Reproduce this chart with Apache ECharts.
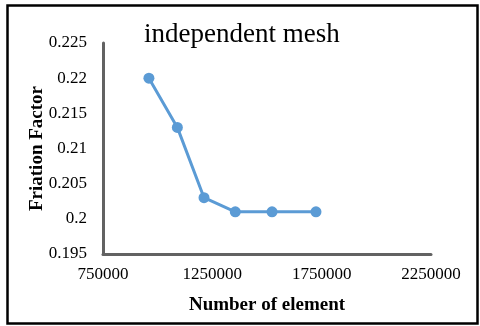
<!DOCTYPE html>
<html><head><meta charset="utf-8">
<script src="https://cdn.jsdelivr.net/npm/echarts@6/dist/echarts.min.js"></script>
<style>html,body{margin:0;padding:0;background:#fff}#c{width:480px;height:326px}</style>
</head><body><div id="c"></div>
<script>
var titleText = 'independent mesh';
var xName = 'Number of element';
var yName = 'Friation Factor';
var elements = [960000, 1090000, 1212000, 1355000, 1523000, 1724000];
var friction = [0.220, 0.213, 0.203, 0.201, 0.201, 0.201];

var chart = echarts.init(document.getElementById('c'), null, {renderer: 'canvas'});
var serif = '"Liberation Serif", "Times New Roman", serif';
chart.setOption({
  backgroundColor: '#fff',
  animation: false,
  title: {
    text: titleText, left: 139, top: 16,
    textStyle: {fontFamily: serif, fontSize: 27, fontWeight: 'normal', color: '#000'}
  },
  graphic: [{
    type: 'rect', left: 5, top: 3, silent: true,
    shape: {x: 0, y: 0, width: 470, height: 318},
    style: {fill: 'none', stroke: '#000', lineWidth: 2.5}
  }],
  grid: {left: 103, right: 49, top: 43, bottom: 72},
  xAxis: {
    type: 'value', min: 750000, max: 2250000, interval: 500000,
    name: xName, nameLocation: 'middle', nameGap: 42, nameMoveOverlap: false,
    nameTextStyle: {fontFamily: serif, fontSize: 19, fontWeight: 'bold', color: '#000'},
    axisLine: {lineStyle: {color: '#626262', width: 3}},
    axisTick: {show: false}, splitLine: {show: false},
    axisLabel: {fontFamily: serif, fontSize: 17, color: '#000', margin: 12,
      formatter: function (v) { return String(v); }}
  },
  yAxis: {
    type: 'value', min: 0.195, max: 0.225, interval: 0.005,
    name: yName, nameLocation: 'middle', nameGap: 56, nameMoveOverlap: false,
    nameTextStyle: {fontFamily: serif, fontSize: 19, fontWeight: 'bold', color: '#000'},
    axisLine: {show: true, lineStyle: {color: '#626262', width: 3}},
    axisTick: {show: false}, splitLine: {show: false},
    axisLabel: {fontFamily: serif, fontSize: 17, color: '#000', margin: 16,
      formatter: function (v) { return String(+v.toFixed(3)); }}
  },
  series: [{
    type: 'line', data: elements.map(function (x, i) { return [x, friction[i]]; }),
    symbol: 'circle', symbolSize: 11,
    lineStyle: {color: '#5b9bd5', width: 3},
    itemStyle: {color: '#5b9bd5'}
  }]
});
</script></body></html>
